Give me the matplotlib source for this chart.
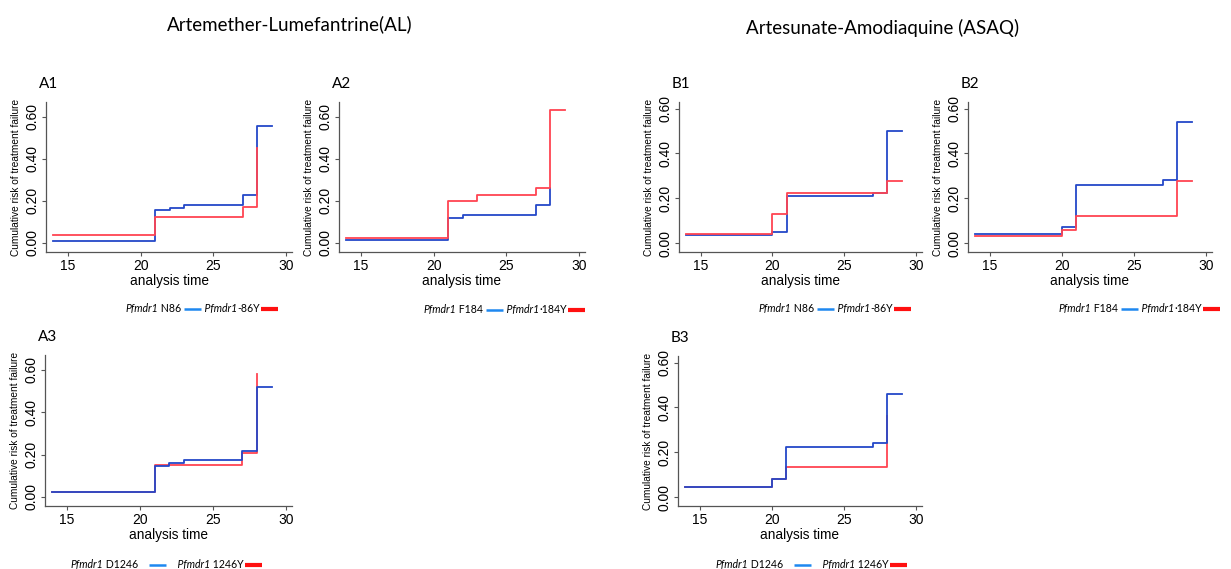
import matplotlib
matplotlib.use('Agg')
import matplotlib.pyplot as plt
from matplotlib.lines import Line2D

W, H = 1231, 569

# step data: (time, cumulative risk)
a1_blue_t = [14, 21, 22, 23, 27, 28, 29]
a1_blue_y = [0.01, 0.155, 0.168, 0.182, 0.226, 0.555, 0.555]
a1_red_t = [14, 21, 27, 28]
a1_red_y = [0.04, 0.123, 0.17, 0.452]

a2_blue_t = [14, 21, 22, 27, 28]
a2_blue_y = [0.013, 0.117, 0.133, 0.182, 0.26]
a2_red_t = [14, 21, 23, 27, 28, 29]
a2_red_y = [0.022, 0.199, 0.229, 0.262, 0.632, 0.632]

a3_blue_t = [14, 21, 22, 23, 27, 28, 29]
a3_blue_y = [0.022, 0.145, 0.16, 0.174, 0.215, 0.517, 0.517]
a3_red_t = [14, 21, 27, 28]
a3_red_y = [0.022, 0.15, 0.208, 0.58]

b1_blue_t = [14, 20, 21, 27, 28, 29]
b1_blue_y = [0.037, 0.05, 0.21, 0.225, 0.50, 0.50]
b1_red_t = [14, 20, 21, 28, 29]
b1_red_y = [0.042, 0.129, 0.225, 0.276, 0.276]

b2_blue_t = [14, 20, 21, 27, 28, 29]
b2_blue_y = [0.042, 0.072, 0.26, 0.28, 0.54, 0.54]
b2_red_t = [14, 20, 21, 28, 29]
b2_red_y = [0.03, 0.057, 0.12, 0.279, 0.279]

b3_red_t = [14, 20, 21, 28]
b3_red_y = [0.044, 0.079, 0.134, 0.363]
b3_blue_t = [14, 20, 21, 27, 28, 29]
b3_blue_y = [0.044, 0.079, 0.225, 0.24, 0.461, 0.461]

xticks = [15, 20, 25, 30]
yticks = [0.0, 0.2, 0.4, 0.6]

blue = '#2448c8'
red = '#ff4452'

plt.rcParams['font.family'] = ['Liberation Sans', 'DejaVu Sans']

fig = plt.figure(figsize=(W / 100, H / 100), dpi=100)
renderer = fig.canvas.get_renderer()


def fx(px):
    return px / W


def fy(py):
    return 1 - py / H


def panel(l, r, top, bot, ylim, name, bt, by, rt, ry, red_first=False):
    ax = fig.add_axes([fx(l), fy(bot), (r - l) / W, (bot - top) / H])
    if red_first:
        ax.step(rt, ry, where='post', color=red, lw=1.3)
        ax.step(bt, by, where='post', color=blue, lw=1.3)
    else:
        ax.step(bt, by, where='post', color=blue, lw=1.3)
        ax.step(rt, ry, where='post', color=red, lw=1.3)
    ax.set_xlim(13.5, 30.4)
    ax.set_ylim(*ylim)
    ax.set_xticks(xticks)
    ax.set_yticks(yticks)
    ax.set_yticklabels(['%.2f' % v for v in yticks], rotation=90, va='center')
    for s in ['top', 'right']:
        ax.spines[s].set_visible(False)
    for s in ['left', 'bottom']:
        ax.spines[s].set_color('#555555')
        ax.spines[s].set_linewidth(0.9)
    ax.tick_params(length=3, width=0.8, color='#555555', labelsize=10, pad=2)
    ax.set_xlabel('analysis time', fontsize=9.8, labelpad=1)
    ax.set_ylabel('Cumulative risk of treatment failure', fontsize=7.3, labelpad=3)
    ax.set_facecolor('none')
    fig.text(fx(l - 7), fy(top - 18), name, fontsize=11, family='Lato', va='center')
    return ax


def legend(x, y, a, b, gap=0):
    # y is the text baseline in pixels from the top
    bits = [('Pfmdr1', 'italic'), (' ' + a, 'normal'), ('#1e88f0', 1.8),
            (' Pfmdr1', 'italic'), (b, 'normal'), ('#ff1010', 3.0)]
    for item, st in bits:
        if item.startswith('#'):
            lead = 3 + gap if item == '#1e88f0' else 1
            fig.add_artist(Line2D([fx(x + lead), fx(x + lead + 17)], [fy(y - 3.5)] * 2,
                                  color=item, lw=st, solid_capstyle='butt'))
            x += lead + 18 + (gap if item == '#1e88f0' else 0)
        else:
            t = fig.text(fx(x), fy(y), item, style=st, fontsize=7.6,
                         family=['Lato', 'DejaVu Sans'], va='baseline')
            x = t.get_window_extent(renderer).x1


ylimA = (-0.043, 0.67)
ylimB = (-0.04, 0.63)

panel(46, 292, 102, 252, ylimA, 'A1', a1_blue_t, a1_blue_y, a1_red_t, a1_red_y)
panel(339, 585, 102, 252, ylimA, 'A2', a2_blue_t, a2_blue_y, a2_red_t, a2_red_y)
panel(45, 292, 355, 506, ylimA, 'A3', a3_blue_t, a3_blue_y, a3_red_t, a3_red_y, red_first=True)
panel(679, 922, 102, 252, ylimB, 'B1', b1_blue_t, b1_blue_y, b1_red_t, b1_red_y)
panel(968, 1212, 102, 252, ylimB, 'B2', b2_blue_t, b2_blue_y, b2_red_t, b2_red_y)
panel(678, 922, 356, 506, ylimB, 'B3', b3_blue_t, b3_blue_y, b3_red_t, b3_red_y, red_first=True)

legend(125, 312, 'N86', '-86Y')
legend(423, 313, 'F184', '\u00b7184Y')
legend(70, 569 - 1, 'D1246', ' 1246Y', gap=8)
legend(758, 312, 'N86', '-86Y')
legend(1058, 312, 'F184', '\u00b7184Y')
legend(715, 569 - 1, 'D1246', ' 1246Y', gap=8)

fig.text(fx(290), fy(24), 'Artemether-Lumefantrine(AL)', fontsize=13.5,
         family='Lato', ha='center', va='center')
fig.text(fx(883), fy(28), 'Artesunate-Amodiaquine (ASAQ)', fontsize=13.5,
         family='Lato', ha='center', va='center')

fig.savefig('out.png', dpi=100)
